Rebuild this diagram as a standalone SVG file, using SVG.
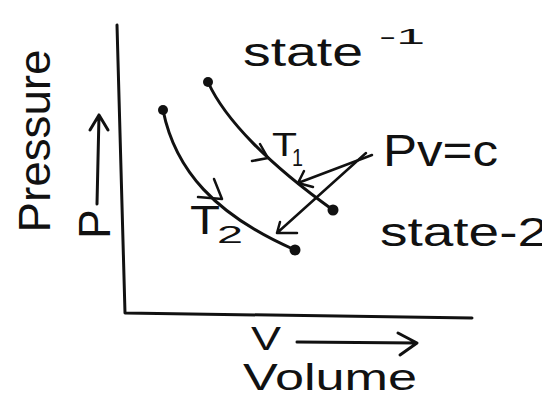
<svg xmlns="http://www.w3.org/2000/svg" width="542" height="398" viewBox="0 0 542 398">
<style>
.ln{fill:none;stroke:#111;stroke-width:3;stroke-linecap:round;stroke-linejoin:round}
.th{stroke-width:2.5}
.t{font-family:"Liberation Sans","DejaVu Sans",sans-serif;fill:#111}
.dot{fill:#111}
</style>
<rect width="542" height="398" fill="#fff"/>
<g id="axes">
<path class="ln" d="M117,25 L125,313 L472,318"/>
</g>
<g id="pressure-label">
<text class="t" font-size="44" text-anchor="middle" transform="translate(50,141) rotate(-90)" textLength="183" lengthAdjust="spacingAndGlyphs">Pressure</text>
<text class="t" font-size="44" text-anchor="middle" transform="translate(110,224) rotate(-90)">P</text>
<path class="ln" d="M97,204 L99,115 M90,130 L99,115 L108,130"/>
</g>
<g id="volume-label">
<text class="t" font-size="34" x="251" y="350" textLength="30" lengthAdjust="spacingAndGlyphs">V</text>
<path class="ln" d="M297,342 L417,343 M398,333 L417,343 L400,355"/>
<text class="t" font-size="36" x="243" y="390" textLength="174" lengthAdjust="spacingAndGlyphs">Volume</text>
</g>
<g id="isotherm-T1">
<path class="ln" d="M208,82 C225,120 270,165 333,210"/>
<path class="ln th" d="M260,144 L268,158 L252,161"/>
<circle class="dot" cx="208" cy="82" r="5"/>
<circle class="dot" cx="333" cy="210" r="5.5"/>
<text class="t" font-size="33" x="272" y="156" textLength="25" lengthAdjust="spacingAndGlyphs">T</text>
<text class="t" font-size="24" x="292" y="166" textLength="11" lengthAdjust="spacingAndGlyphs">1</text>
</g>
<g id="isotherm-T2">
<path class="ln" d="M163,110 C175,170 215,215 295,250"/>
<path class="ln th" d="M214,179 L222,199 L198,197"/>
<circle class="dot" cx="163" cy="110" r="5"/>
<circle class="dot" cx="295" cy="250" r="5.5"/>
<text class="t" font-size="40" x="190" y="234" textLength="30" lengthAdjust="spacingAndGlyphs">T</text>
<text class="t" font-size="24" x="217" y="243" textLength="26" lengthAdjust="spacingAndGlyphs">2</text>
</g>
<g id="state-1">
<text class="t" font-size="40" x="243" y="66" textLength="120" lengthAdjust="spacingAndGlyphs">state</text>
<text class="t" font-size="22" x="379" y="44" textLength="46" lengthAdjust="spacingAndGlyphs">-1</text>
</g>
<g id="state-2">
<text class="t" font-size="40" x="380" y="246" textLength="168" lengthAdjust="spacingAndGlyphs">state-2</text>
</g>
<g id="pv-c">
<text class="t" font-size="44" x="383" y="166" textLength="115" lengthAdjust="spacingAndGlyphs">Pv=c</text>
</g>
<g id="connectors">
<path class="ln th" d="M372,155 L298,183 M304,171 L298,183 L313,187"/>
<path class="ln th" d="M366,153 L277,233 M280,222 L277,233 L297,233"/>
</g>
</svg>
